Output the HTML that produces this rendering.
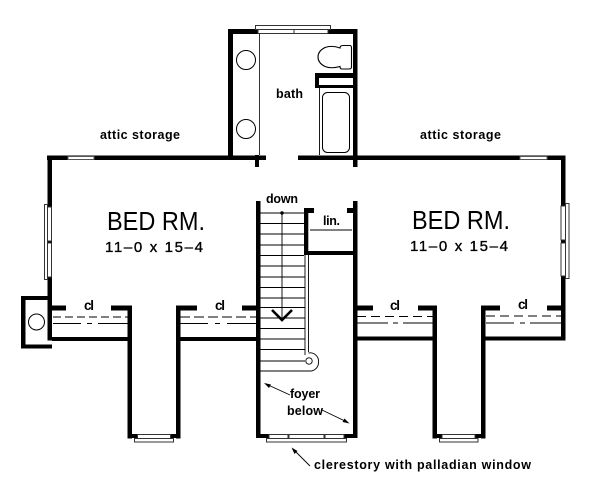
<!DOCTYPE html>
<html><head><meta charset="utf-8"><style>
html,body{margin:0;padding:0;background:#fff}
svg{display:block}
text{font-family:"Liberation Sans",sans-serif;fill:#000}
.b{font-weight:bold;font-size:12.5px}
.d{font-size:15px;stroke:#000;stroke-width:.35px}
</style></head><body>
<svg width="600" height="498" viewBox="0 0 600 498" xmlns="http://www.w3.org/2000/svg">
<g fill="#000">
<!-- bath walls -->
<rect x="228" y="29" width="5" height="131"/>
<rect x="228" y="29" width="127" height="5"/>
<rect x="353" y="29" width="4.500" height="138"/>
<rect x="255" y="155" width="4" height="12"/>
<!-- main top wall -->
<rect x="47" y="155.500" width="219" height="4.500"/>
<rect x="298" y="155.500" width="267" height="4.500"/>
<!-- side walls -->
<rect x="47.500" y="155.500" width="4.500" height="185"/>
<rect x="561" y="155.500" width="4.500" height="185"/>
<!-- chimney -->
<rect x="21" y="296" width="31" height="4"/>
<rect x="21" y="296" width="4.500" height="52"/>
<rect x="21" y="344.500" width="31" height="4"/>
<!-- left closets -->
<rect x="52" y="305.500" width="14" height="5"/>
<rect x="111" y="305.500" width="21" height="5"/>
<rect x="127.500" y="305.500" width="4.500" height="133"/>
<rect x="52" y="337" width="76" height="4"/>
<rect x="176" y="305.500" width="21" height="5"/>
<rect x="176" y="305.500" width="4.500" height="133"/>
<rect x="180" y="337" width="76" height="4"/>
<rect x="242" y="305.500" width="14" height="5"/>
<rect x="127.500" y="434" width="52.500" height="4"/>
<!-- stairs / foyer walls -->
<rect x="256" y="201" width="4.500" height="237"/>
<rect x="353" y="201" width="4.500" height="237"/>
<rect x="256" y="434" width="101.500" height="4"/>
<!-- right closets -->
<rect x="357" y="305.500" width="16" height="5"/>
<rect x="418" y="305.500" width="19" height="5"/>
<rect x="432.500" y="305.500" width="4.500" height="133"/>
<rect x="357" y="336.500" width="76" height="4"/>
<rect x="481" y="305.500" width="19" height="5"/>
<rect x="481" y="305.500" width="4.500" height="133"/>
<rect x="485" y="336.500" width="80" height="4"/>
<rect x="547" y="305.500" width="14" height="5"/>
<rect x="432.500" y="434" width="53" height="4"/>
<!-- linen -->
<rect x="304" y="208" width="10" height="5"/>
<rect x="304" y="208" width="4.300" height="47"/>
<rect x="304" y="251" width="50" height="4"/>
<rect x="347" y="208" width="7" height="5"/>
<!-- shelf -->
<rect x="315" y="73" width="40" height="15"/>
</g>
<!-- shelf inner -->
<rect x="319" y="78" width="34" height="7" fill="#fff"/>
<g fill="#fff" stroke="#333" stroke-width="1">
<!-- windows -->
<rect x="255.500" y="25.500" width="75" height="4"/>
<rect x="258" y="29.500" width="36" height="4"/>
<rect x="294" y="29.500" width="34" height="4"/>
<rect x="68" y="156.500" width="26" height="3" stroke="#555"/>
<rect x="520" y="156.500" width="27" height="3" stroke="#555"/>
<rect x="44.500" y="204.500" width="3" height="75"/>
<rect x="47.500" y="207" width="4" height="34"/>
<rect x="47.500" y="243" width="4" height="34"/>
<rect x="565.500" y="203.500" width="3.500" height="75"/>
<rect x="561" y="206" width="4.500" height="34"/>
<rect x="561" y="243" width="4.500" height="33"/>
<rect x="134.500" y="438.500" width="39" height="3.500"/>
<rect x="137.500" y="434.500" width="33" height="4"/>
<rect x="266.500" y="438.500" width="80" height="3.500"/>
<rect x="269" y="434.500" width="19" height="4"/>
<rect x="289" y="434.500" width="35" height="4"/>
<rect x="325" y="434.500" width="19" height="4"/>
<rect x="439.500" y="438.500" width="38.500" height="3.500"/>
<rect x="442" y="434.500" width="33" height="4"/>
</g>
<g fill="none" stroke="#000">
<!-- bath fixtures -->
<line x1="259.500" y1="34" x2="259.500" y2="155" stroke-width="0.800"/>
<circle cx="246" cy="60" r="9.500" stroke-width="1"/>
<circle cx="246" cy="129" r="9.500" stroke-width="1"/>
<path d="M340 48 Q340 45.500 343 45.500 L350 45.500 Q351.500 45.500 351.500 48 L351.500 67 Q351.500 69 349 69 L342 69 Q340 69 340 66.500 Q331 69 325 66.500 Q318 63 318 57 Q318 51 325 47.500 Q332 45 340 48 Z" stroke-width="1.100"/>
<line x1="319.500" y1="88" x2="319.500" y2="155" stroke-width="0.900"/>
<rect x="322.500" y="92.500" width="27" height="60" rx="5" ry="5" stroke-width="1"/>
<!-- chimney flue -->
<circle cx="36.500" cy="322" r="8" stroke-width="1"/>
<!-- closet rods -->
<g stroke-width="1">
<path d="M53 317H128" stroke-dasharray="8 4"/>
<path d="M53 323.500H81M87 323.500H92M98 323.500H128"/>
<path d="M180 317H256" stroke-dasharray="10 4"/>
<path d="M180 323.500H208M215 323.500H220M227 323.500H256"/>
<path d="M357 316.500H433" stroke-dasharray="9 5"/>
<path d="M357 323H388M393 323H398M403 323H433"/>
<path d="M486 316H561" stroke-dasharray="9 5"/>
<path d="M486 323H514M520 323H525M530 323H561"/>
</g>
<!-- stair treads -->
<g stroke-width="0.900">
<path d="M260 213H304M260 223.500H304M260 234H304M260 245H304M260 255.500H304M260 266H305M260 277H305M260 287.500H305M260 298H305M260 307.500H305M260 318H305M260 328.500H305M260 339H305M260 349.500H305M260 361H305"/>
<path d="M305 255V355M308.500 255V352"/>
<path d="M260 371H310A8.500 8.500 0 0 0 318.500 362.500A8.500 8.500 0 0 0 308.500 353" />
<circle cx="309" cy="361" r="3.200"/>
<line x1="282" y1="213" x2="282" y2="319"/>
<line x1="310" y1="230" x2="352" y2="230"/>
</g>
<path d="M272 310L282 320L292 310" stroke-width="2.600"/>
<!-- leader lines -->
<g stroke-width="0.900">
<line x1="266" y1="384" x2="290" y2="395"/>
<line x1="322" y1="410" x2="347" y2="422"/>
<line x1="294" y1="450" x2="310" y2="466"/>
</g>
</g>
<circle cx="282" cy="213" r="1.700" fill="#000"/>
<g fill="#000">
<path d="M264 383L271 384.500L269 388Z"/>
<path d="M349.500 423.500L342.500 422L344.500 418.500Z"/>
<path d="M291.500 447.500L297.500 451L294.500 454Z"/>
</g>
<!-- labels -->
<text class="b" x="100" y="139" textLength="80" lengthAdjust="spacing">attic storage</text>
<text class="b" x="420" y="139" textLength="81" lengthAdjust="spacing">attic storage</text>
<text class="b" x="276" y="98" textLength="27" lengthAdjust="spacing">bath</text>
<text x="107" y="230" font-size="26" textLength="98" lengthAdjust="spacingAndGlyphs">BED RM.</text>
<text x="412" y="229" font-size="26" textLength="98" lengthAdjust="spacingAndGlyphs">BED RM.</text>
<text class="d" x="105" y="252" textLength="98" lengthAdjust="spacing">11–0 x 15–4</text>
<text class="d" x="410" y="251" textLength="98" lengthAdjust="spacing">11–0 x 15–4</text>
<text class="b" x="84" y="310" style="font-size:13.500px" textLength="10">cl</text>
<text class="b" x="215" y="310" style="font-size:13.500px" textLength="10">cl</text>
<text class="b" x="390" y="310" style="font-size:13.500px" textLength="10">cl</text>
<text class="b" x="518" y="309" style="font-size:13.500px" textLength="10">cl</text>
<text class="b" x="266" y="203" textLength="32" lengthAdjust="spacing">down</text>
<text class="b" x="323" y="225" textLength="17" lengthAdjust="spacing">lin.</text>
<text class="b" x="290" y="398" textLength="30" lengthAdjust="spacing">foyer</text>
<text class="b" x="287" y="415" textLength="36" lengthAdjust="spacing">below</text>
<text class="b" x="314" y="469" textLength="217" lengthAdjust="spacing">clerestory with palladian window</text>
</svg>
</body></html>
